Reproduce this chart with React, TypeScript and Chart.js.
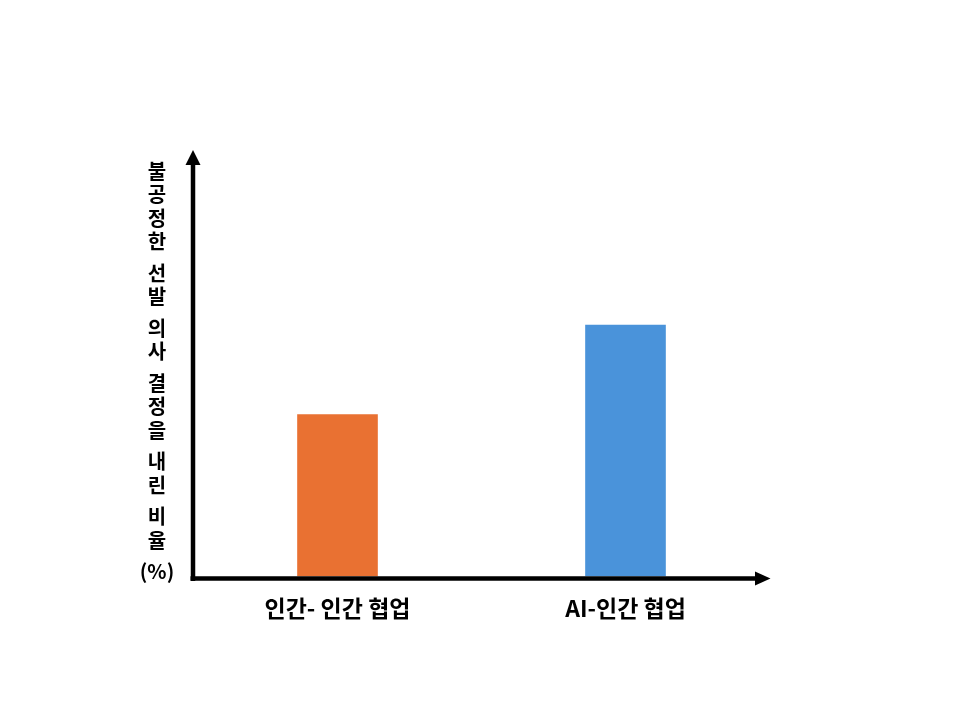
import React, { useEffect, useRef } from 'react';
import { Chart, registerables } from 'chart.js';
import type { Plugin } from 'chart.js';

Chart.register(...registerables);

// Chart data
const categories = ['인간- 인간 협업', 'AI-인간 협업'];
const unfairRates = [38, 59];
const barColors = ['#E97132', '#4A93DA'];

// Y axis title, one character per line, grouped where the original wraps
const yTitleGroups = [
    ['불', '공', '정', '한'],
    ['선', '발'],
    ['의', '사'],
    ['결', '정', '을'],
    ['내', '린'],
    ['비', '율'],
    ['(%)'],
];

const FONT = '"Noto Sans CJK KR", "Noto Sans", sans-serif';

// Draws arrow-headed axes and the stacked vertical title
const arrowAxes: Plugin<'bar'> = {
    id: 'arrowAxes',
    afterDraw(chart) {
        const { ctx, chartArea } = chart;
        const x0 = chartArea.left - 0.5;
        const y0 = chartArea.bottom + 2;
        ctx.save();
        ctx.strokeStyle = '#000';
        ctx.fillStyle = '#000';
        ctx.lineWidth = 4.5;

        // y axis
        ctx.beginPath();
        ctx.moveTo(x0, y0 + 2.5);
        ctx.lineTo(x0, chartArea.top + 14);
        ctx.stroke();
        ctx.beginPath();
        ctx.moveTo(x0, chartArea.top);
        ctx.lineTo(x0 - 7.5, chartArea.top + 15);
        ctx.lineTo(x0 + 7.5, chartArea.top + 15);
        ctx.closePath();
        ctx.fill();

        // x axis
        ctx.beginPath();
        ctx.moveTo(x0 - 2.5, y0);
        ctx.lineTo(chartArea.right - 14, y0);
        ctx.stroke();
        ctx.beginPath();
        ctx.moveTo(chartArea.right + 1, y0);
        ctx.lineTo(chartArea.right - 14.5, y0 - 7);
        ctx.lineTo(chartArea.right - 14.5, y0 + 7);
        ctx.closePath();
        ctx.fill();

        // stacked y title
        ctx.font = `bold 20px ${FONT}`;
        ctx.textAlign = 'center';
        ctx.textBaseline = 'middle';
        const lineH = 23.5;
        const groupGap = 8;
        let y = 171;
        yTitleGroups.forEach((group, gi) => {
            if (gi > 0) y += groupGap;
            group.forEach((ch) => {
                ctx.fillText(ch, 157, y);
                y += lineH;
            });
        });
        ctx.restore();
    },
};

const BarChart: React.FC = () => {
    const canvasRef = useRef<HTMLCanvasElement>(null);

    useEffect(() => {
        if (!canvasRef.current) return;
        const chart = new Chart(canvasRef.current, {
            type: 'bar',
            data: {
                labels: categories,
                datasets: [
                    {
                        data: unfairRates,
                        backgroundColor: barColors,
                        borderWidth: 0,
                        barPercentage: 1,
                        categoryPercentage: 0.28,
                    },
                ],
            },
            options: {
                responsive: false,
                animation: false,
                layout: {
                    padding: { left: 193.5, right: 190.5, top: 150, bottom: 88 },
                },
                plugins: {
                    legend: { display: false },
                    tooltip: { enabled: false },
                },
                scales: {
                    x: {
                        grid: { display: false },
                        border: { display: false },
                        ticks: {
                            color: '#000',
                            padding: 10,
                            font: { family: FONT, size: 23, weight: 'bold' },
                        },
                    },
                    y: {
                        display: false,
                        min: 0,
                        max: 100,
                    },
                },
            },
            plugins: [arrowAxes],
        });

        return () => {
            chart.destroy();
        };
    }, []);

    return <canvas ref={canvasRef} width={960} height={720} style={{ width: 960, height: 720 }} />;
};

export default function App() {
    return (
        <div style={{ position: 'absolute', left: 0, top: 0, width: 960, height: 720, background: '#fff' }}>
            <BarChart />
        </div>
    );
}
